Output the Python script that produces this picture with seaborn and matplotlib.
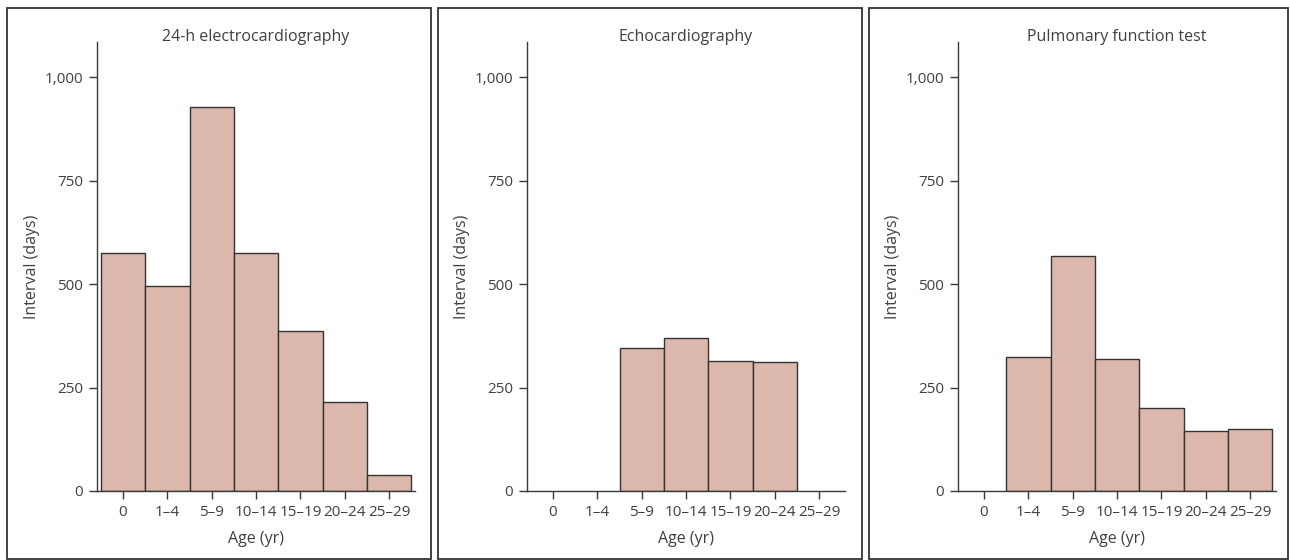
import numpy as np
import pandas as pd
import matplotlib
matplotlib.use("Agg")
import matplotlib.pyplot as plt
import seaborn as sns
from matplotlib.patches import Rectangle
from matplotlib.ticker import FuncFormatter

ages = ["0", "1–4", "5–9", "10–14", "15–19", "20–24", "25–29"]
titles = ["24-h electrocardiography", "Echocardiography", "Pulmonary function test"]
ecg = [574, 496, 928, 576, 387, 215, 39]
echo = [np.nan, np.nan, 346, 369, 314, 311, np.nan]
pft = [np.nan, 324, 569, 318, 200, 146, 150]
series = [ecg, echo, pft]
yticks = [0, 250, 500, 750, 1000]

sns.set_theme(style="white")
plt.rcParams["font.family"] = ["Open Sans", "DejaVu Sans"]

fig = plt.figure(figsize=(12.9, 5.6), dpi=100)
W, H = 1290, 560
lefts = [97, 527, 958]
boxes = [(7, 431), (438, 862), (869, 1288)]
text_col = "#404040"
line_col = "#3a3a3a"

for x0, x1 in boxes:
    fig.patches.append(Rectangle((x0 / W, 1 - 559 / H), (x1 - x0) / W, (559 - 8) / H,
                                 transform=fig.transFigure, fill=False,
                                 edgecolor="#333333", linewidth=1.3))

for i, (vals, title) in enumerate(zip(series, titles)):
    ax = fig.add_axes([lefts[i] / W, 1 - 491 / H, 318 / W, (491 - 42) / H])
    df = pd.DataFrame({"age": ages, "days": vals})
    sns.barplot(data=df, x="age", y="days", order=ages, width=1,
                color="#dbb8ab", saturation=1, edgecolor="#333333",
                linewidth=1.0, ax=ax)
    ax.set_xlim(-0.585, 6.58)
    ax.set_ylim(0, 1085)
    ax.set_yticks(yticks)
    ax.yaxis.set_major_formatter(FuncFormatter(lambda v, p: f"{int(v):,}"))
    for s in ["top", "right"]:
        ax.spines[s].set_visible(False)
    for s in ["left", "bottom"]:
        ax.spines[s].set_color(line_col)
        ax.spines[s].set_linewidth(1.0)
    ax.tick_params(axis="both", direction="out", length=6, width=1.0,
                   color=line_col, labelcolor=text_col, labelsize=11, pad=4,
                   left=True, bottom=True)
    ax.set_xlabel("Age (yr)", fontsize=11.5, color=text_col, labelpad=8)
    ax.set_ylabel("Interval (days)", fontsize=11.5, color=text_col, labelpad=3)
    ax.set_title(title, fontsize=11.5, color=text_col, pad=1)
    ax.set_facecolor("white")

fig.savefig("out.png", dpi=100)
